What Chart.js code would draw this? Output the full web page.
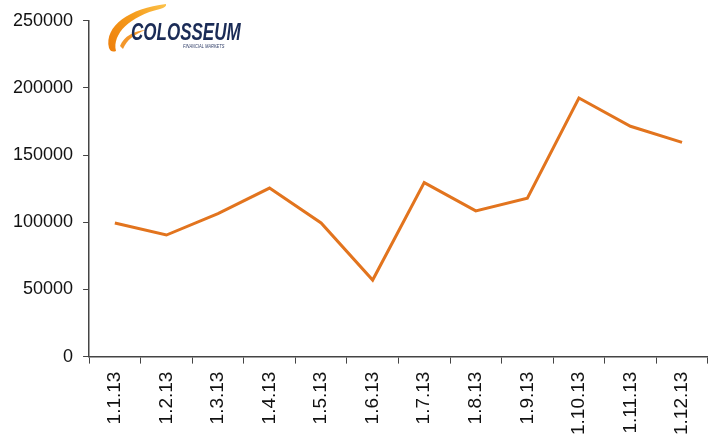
<!DOCTYPE html>
<html>
<head>
<meta charset="utf-8">
<script src="https://cdn.jsdelivr.net/npm/chart.js@4/dist/chart.umd.min.js"></script>
<style>
  html, body { margin: 0; padding: 0; background: #fff; }
  #wrap { width: 713px; height: 441px; }
</style>
</head>
<body>
<div id="wrap"><canvas id="linhas"></canvas></div>
<script>
// dados
const datas = ["1.1.13", "1.2.13", "1.3.13", "1.4.13", "1.5.13", "1.6.13",
  "1.7.13", "1.8.13", "1.9.13", "1.10.13", "1.11.13", "1.12.13"];
const valores = [99500, 90500, 106500, 125500, 99500, 57000,
  129500, 108500, 118000, 192500, 171500, 159500];
const ticksY = [0, 50000, 100000, 150000, 200000, 250000];

// logo Colosseum no canto
const logo = {
  id: "logo",
  afterDraw(chart) {
    const ctx = chart.ctx;
    ctx.save();
    // swoosh laranja
    let g = ctx.createLinearGradient(108, 50, 166, 4);
    g.addColorStop(0, "#ee7f0c");
    g.addColorStop(0.55, "#f59c1c");
    g.addColorStop(1, "#fcc24a");
    ctx.fillStyle = g;
    ctx.beginPath();
    ctx.moveTo(166, 4);
    ctx.bezierCurveTo(130, 8, 104, 26, 109, 48);
    ctx.quadraticCurveTo(111, 53, 116, 51);
    ctx.bezierCurveTo(112, 34, 130, 16, 160, 9);
    ctx.quadraticCurveTo(167, 7, 166, 4);
    ctx.fill();
    ctx.fillStyle = "rgba(242,140,20,0.9)";
    ctx.beginPath();
    ctx.moveTo(120, 46);
    ctx.bezierCurveTo(124, 36, 134, 31, 146, 30);
    ctx.bezierCurveTo(134, 34, 127, 40, 123, 49);
    ctx.fill();
    // texto
    ctx.fillStyle = "#1b2c57";
    ctx.translate(131, 40);
    ctx.scale(0.74, 1);
    ctx.font = "italic bold 23px 'Liberation Sans', sans-serif";
    ctx.textBaseline = "alphabetic";
    ctx.fillText("COLOSSEUM", 0, 0);
    ctx.setTransform(1, 0, 0, 1, 0, 0);
    ctx.fillStyle = "#33406a";
    ctx.translate(183, 48);
    ctx.scale(0.8, 1);
    ctx.font = "italic 5px 'Liberation Sans', sans-serif";
    ctx.fillText("FINANCIAL MARKETS", 0, 0);
    ctx.restore();
  },
};

new Chart(document.getElementById("linhas"), {
  type: "line",
  data: {
    labels: datas,
    datasets: [
      {
        label: "Colosseum",
        data: valores,
        borderColor: "rgb(226, 116, 30)",
        backgroundColor: "rgb(226, 116, 30)",
        borderWidth: 3,
        pointRadius: 0,
        tension: 0,
      },
    ],
  },
  options: {
    responsive: true,
    maintainAspectRatio: false,
    animation: false,
    layout: {
      padding: { top: -4, right: 4, bottom: -2, left: 3 },
    },
    plugins: {
      legend: { display: false },
      tooltip: { enabled: false },
    },
    scales: {
      x: {
        offset: true,
        grid: {
          offset: true,
          drawOnChartArea: false,
          drawTicks: true,
          tickLength: 7,
          color: "#444",
        },
        border: { color: "#444", width: 1.5 },
        ticks: {
          color: "#111",
          font: { family: "'Liberation Sans', Arial, sans-serif", size: 19 },
          maxRotation: 90,
          minRotation: 90,
          padding: 8,
          autoSkip: false,
        },
      },
      y: {
        min: 0,
        max: 250000,
        afterBuildTicks(axis) {
          axis.ticks = ticksY.map((v) => ({ value: v }));
        },
        grid: {
          drawOnChartArea: false,
          drawTicks: true,
          tickLength: 6,
          color: "#444",
        },
        border: { color: "#444", width: 1.5 },
        ticks: {
          color: "#111",
          font: { family: "'Liberation Sans', Arial, sans-serif", size: 18 },
          padding: 10,
          callback: (v) => String(v),
        },
      },
    },
  },
  plugins: [logo],
});
</script>
</body>
</html>
